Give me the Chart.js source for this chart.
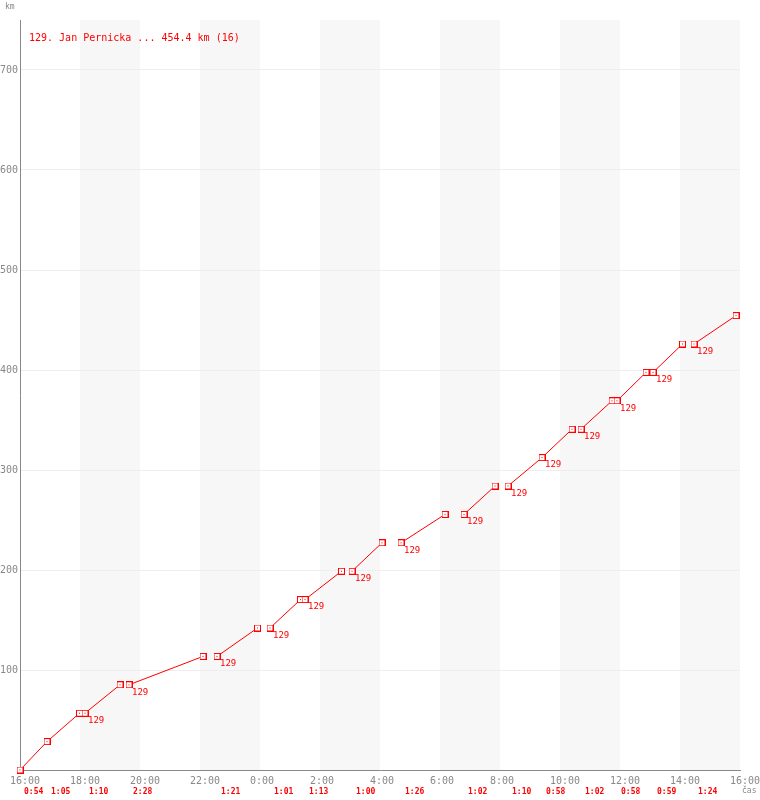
<!DOCTYPE html>
<html>
<head>
<meta charset="utf-8">
<script src="https://cdn.jsdelivr.net/npm/chart.js@4/dist/chart.umd.min.js"></script>
<style>
body{margin:0;background:#fff}
canvas{display:block}
</style>
</head>
<body>
<canvas id="graf" width="760" height="800"></canvas>
<script>
// minuty od 16:00
const zacatek = [0, 54, 130, 218, 394, 500, 570, 664, 762, 888, 976, 1044, 1122, 1194, 1266, 1348]
const konec = [54, 119, 200, 366, 475, 561, 643, 724, 850, 950, 1044, 1104, 1184, 1252, 1325, 1432]
const kmZacatek = [0, 28.4, 56.8, 85.2, 113.6, 142, 170.4, 198.8, 227.2, 255.6, 284, 312.4, 340.8, 369.2, 397.6, 426]
const kmKonec = [28.4, 56.8, 85.2, 113.6, 142, 170.4, 198.8, 227.2, 255.6, 284, 312.4, 340.8, 369.2, 397.6, 426, 454.4]
const casy = ["0:54","1:05","1:10","2:28","1:21","1:01","1:13","1:00","1:26","1:02","1:10","0:58","1:02","0:58","0:59","1:24"]
const stitky = [0, 0, 1, 1, 1, 1, 1, 1, 1, 1, 1, 1, 1, 1, 1, 1]
const pasy = [[120,240],[360,480],[600,720],[840,960],[1080,1200],[1320,1440]]
const nadpis = "129. Jan Pernicka ... 454.4 km (16)"
const cislo = "129"

let body = []
zacatek.forEach((z,i)=>{
body.push({x:z,y:kmZacatek[i]})
body.push({x:konec[i],y:kmKonec[i]})
body.push({x:konec[i],y:null})
})

const znacka = document.createElement("canvas")
znacka.width = 7
znacka.height = 7
const m = znacka.getContext("2d")
m.fillStyle = "#fff"
m.fillRect(0,0,7,7)
m.strokeStyle = "#f00"
m.lineWidth = 1
m.strokeRect(0.5,0.5,6,6)
m.fillStyle = "#f00"
m.fillRect(3,3,1,1)

const pozadi = {
id:"pozadi",
beforeDraw(chart){
const {ctx,chartArea:a,scales:{x}} = chart
ctx.save()
ctx.fillStyle = "#fff"
ctx.fillRect(0,0,chart.width,chart.height)
ctx.fillStyle = "#f7f7f7"
pasy.forEach(p=>{
const x1 = x.getPixelForValue(p[0])
const x2 = x.getPixelForValue(p[1])
ctx.fillRect(x1,a.top,x2-x1,a.bottom-a.top)
})
ctx.restore()
}
}

const popisky = {
id:"popisky",
afterDraw(chart){
const {ctx,scales:{x,y}} = chart
ctx.save()
ctx.fillStyle = "#f00"
ctx.textBaseline = "middle"
ctx.font = "10px 'DejaVu Sans Mono'"
ctx.fillText(nadpis,29,38)

ctx.font = "9px 'DejaVu Sans Mono'"
ctx.textBaseline = "top"
zacatek.forEach((z,i)=>{
if(stitky[i]){
ctx.fillText(cislo,x.getPixelForValue(z)+3,y.getPixelForValue(kmZacatek[i])+3)
}
})

ctx.font = "bold 8px 'DejaVu Sans Mono'"
ctx.textBaseline = "middle"
zacatek.forEach((z,i)=>{
ctx.fillText(casy[i],x.getPixelForValue(z)+4,792)
})

ctx.fillStyle = "#888"
ctx.font = "8px 'DejaVu Sans Mono'"
ctx.fillText("km",5,7)
ctx.fillText("čas",742,791)
ctx.restore()
}
}

new Chart(document.getElementById("graf"),{

type:"line",

data:{
datasets:[{
data:body,
borderColor:"#f00",
borderWidth:1,
pointStyle:znacka,
pointRadius:3.5,
spanGaps:false,
clip:false,
tension:0
}]
},

options:{
responsive:false,
animation:false,
layout:{padding:{top:20,right:20,left:0,bottom:0}},
plugins:{legend:{display:false},tooltip:{enabled:false}},
scales:{
x:{
type:"linear",
min:0,
max:1440,
afterFit(s){s.height = 30;s.paddingLeft = 0;s.paddingRight = 0},
grid:{color:"rgba(0,0,0,0)",drawTicks:false},
border:{display:true,color:"#888",width:1},
ticks:{
stepSize:120,
autoSkip:false,
maxRotation:0,
align:"start",
labelOffset:-10,
padding:5,
color:"#888",
font:{family:"DejaVu Sans Mono",size:10},
callback:v=>((16*60+v)/60)%24+":00"
}
},
y:{
min:0,
max:750,
afterFit(s){s.width = 20;s.paddingTop = 0;s.paddingBottom = 0},
afterBuildTicks(s){s.ticks = s.ticks.filter(t=>t.value>0 && t.value<=700)},
grid:{color:"#eee",drawTicks:false},
border:{display:true,color:"#888",width:1},
ticks:{
stepSize:100,
padding:2,
color:"#888",
font:{family:"DejaVu Sans Mono",size:10}
}
}
}
},

plugins:[pozadi,popisky]

})
</script>
</body>
</html>
